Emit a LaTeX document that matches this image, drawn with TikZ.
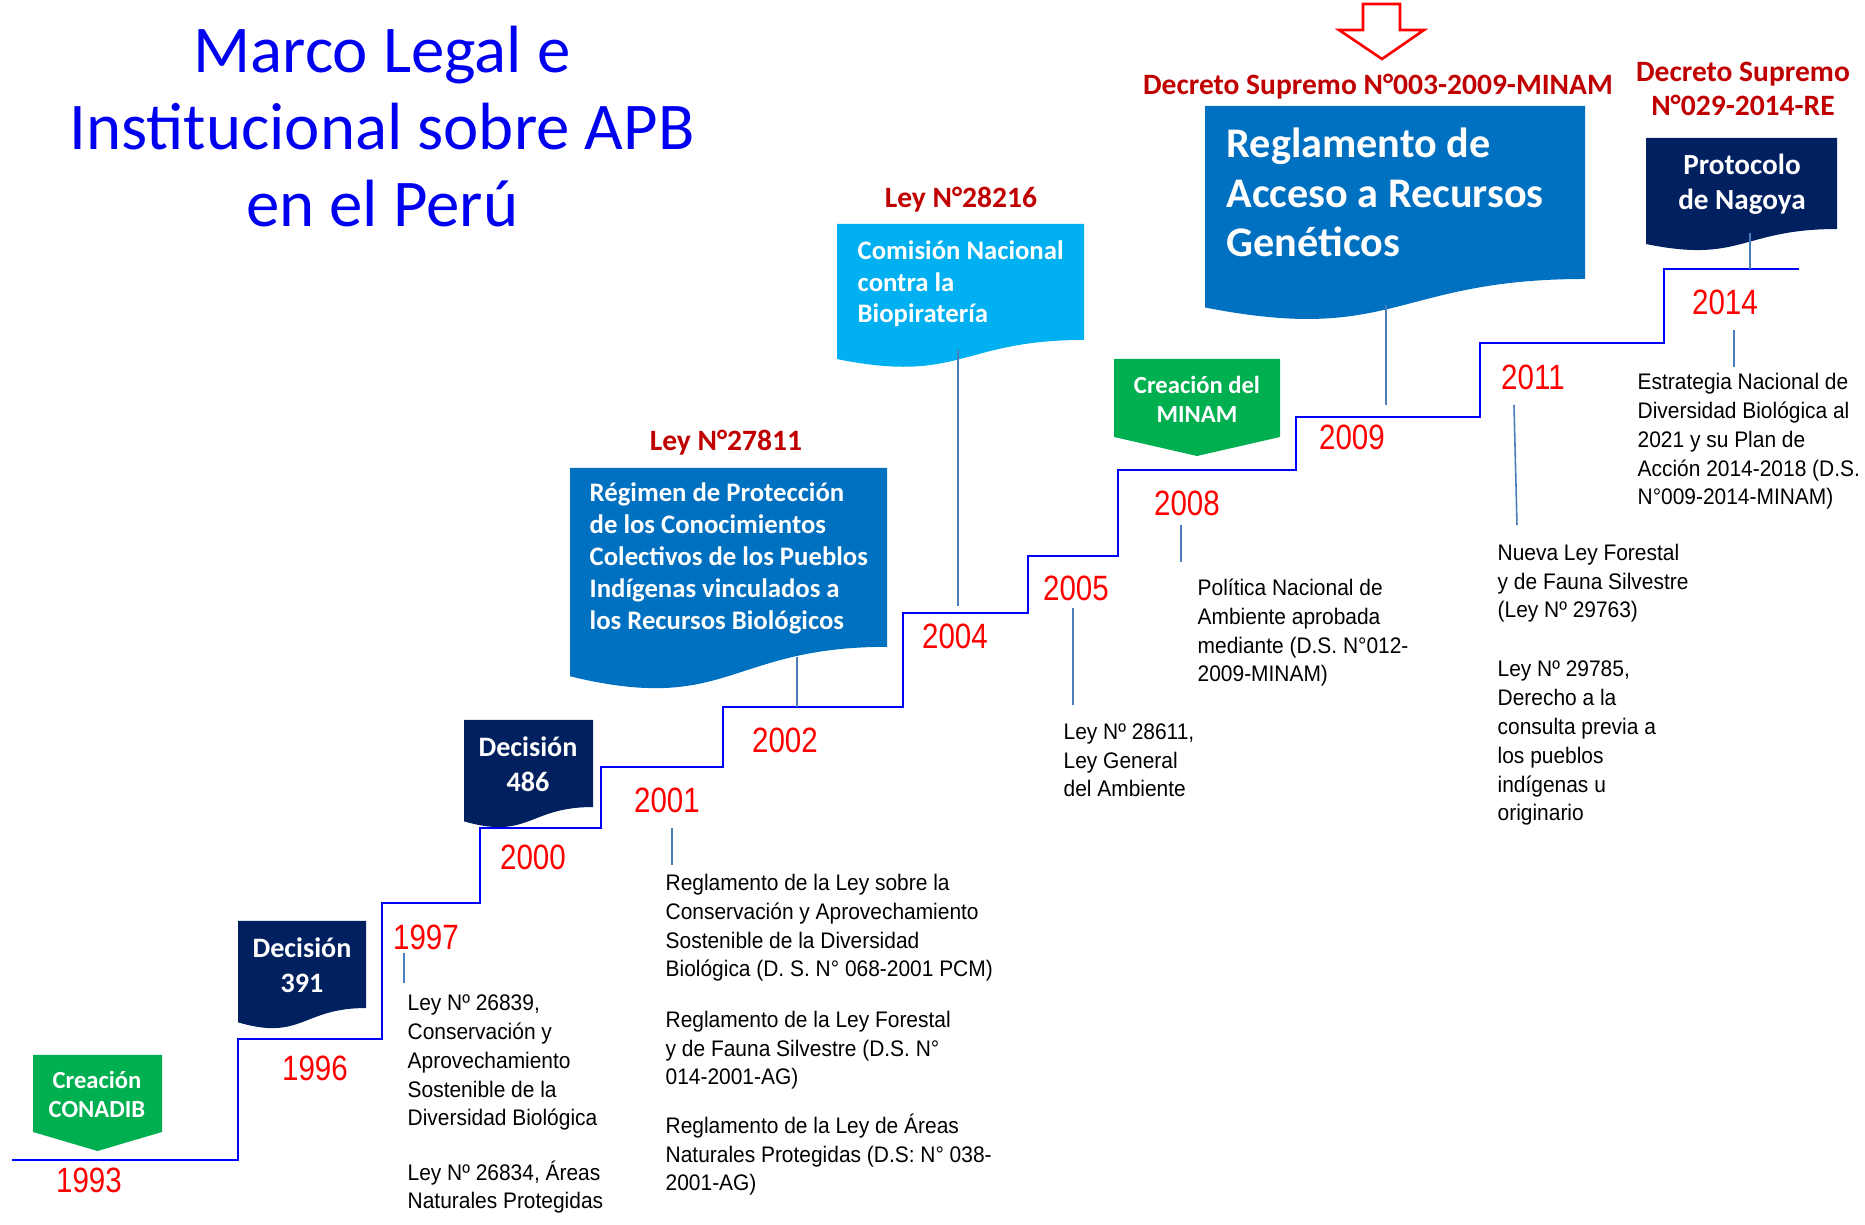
\documentclass[tikz,border=0pt]{standalone}
\usepackage{fontspec}
\setmainfont{Liberation Sans}
\newfontfamily\boxfont{Carlito}
\newfontfamily\yearfont[FakeStretch=0.84]{Liberation Sans}
\newfontfamily\notefont[FakeStretch=0.93]{Liberation Sans}
\usepackage{tikz}
\usetikzlibrary{positioning}
\definecolor{officeblue}{HTML}{0070C0}
\definecolor{skyblue}{HTML}{00B0F0}
\definecolor{navyblue}{HTML}{002060}
\definecolor{officegreen}{HTML}{00B050}
\definecolor{darkred}{HTML}{C00000}
\definecolor{tickblue}{HTML}{4A7EBB}
\definecolor{titleblue}{HTML}{0000F0}
\tikzset{>=latex}
\tikzset{
  timeline/.style={draw=blue, line width=0.7pt},
  tick/.style={draw=tickblue, line width=0.45pt},
  year/.style={text=red, inner sep=0pt, font=\yearfont\fontsize{10}{12}\selectfont},
  heading/.style={text=darkred, inner sep=0pt, align=center, font=\boxfont\bfseries\fontsize{8.4}{9.7}\selectfont},
  boxtext/.style={text=white, inner sep=0pt, font=\boxfont\bfseries},
  note/.style={inner sep=0pt, align=left, anchor=base west, font=\notefont\fontsize{6.4}{8.2}\selectfont},
}

% document shape with wavy bottom: colour, left, top, right, height
\newcommand{\docbox}[5]{%
  \fill[#1] (#2,#3) -- (#4,#3) -- (#4,{#3+0.802*#5})
    .. controls ({(#2+#4)/2},{#3+0.802*#5}) and ({(#2+#4)/2},{#3+1.1075*#5})
    .. (#2,{#3+0.934*#5}) -- cycle;}
% pentagon tag: colour, left, top, right, side bottom, tip
\newcommand{\tagbox}[6]{%
  \fill[#1] (#2,#3) -- (#4,#3) -- (#4,#5) -- ({(#2+#4)/2},#6) -- (#2,#5) -- cycle;}

\begin{document}
\begin{tikzpicture}[x=0.01cm, y=-0.01cm]
\useasboundingbox (0,0) rectangle (1865,1225);

% Title (base = last line)
\node[text=titleblue, align=center, anchor=base, inner sep=0pt,
      font=\boxfont\fontsize{19}{21.9}\selectfont] (title) at (382,227)
  {Marco Legal e\\Institucional sobre APB\\en el Perú};

% Timeline steps
\coordinate (s0) at (12,1160);
\coordinate (s1) at (238,1039);
\coordinate (s2) at (382,903);
\coordinate (s3) at (480,828);
\coordinate (s4) at (601,767);
\coordinate (s5) at (723,707);
\coordinate (s6) at (903,613);
\coordinate (s7) at (1028,556);
\coordinate (s8) at (1118,470);
\coordinate (s9) at (1296,417);
\coordinate (s10) at (1480,343);
\coordinate (s11) at (1664,269);
\coordinate (s12) at (1799,269);
\draw[timeline] (s0) -| (s1) -| (s2) -| (s3) -| (s4) -| (s5) -| (s6)
  -| (s7) -| (s8) -| (s9) -| (s10) -| (s11) -- (s12);

% Years
\node[year] (y1993) at (89,1180) {1993};
\node[year] (y1996) at (315,1068) {1996};
\node[year] (y1997) at (426,937) {1997};
\node[year] (y2000) at (533,857) {2000};
\node[year] (y2001) at (667,800) {2001};
\node[year] (y2002) at (785,740) {2002};
\node[year] (y2004) at (955,636) {2004};
\node[year] (y2005) at (1076,588) {2005};
\node[year] (y2008) at (1187,503) {2008};
\node[year] (y2009) at (1352,437) {2009};
\node[year] (y2011) at (1533,377) {2011};
\node[year] (y2014) at (1725,302) {2014};

% Boxes
\tagbox{officegreen}{33}{1055}{162}{1132}{1151}
\node[boxtext, align=center, font=\boxfont\bfseries\fontsize{7}{8.25}\selectfont] (conadib) at (97,1094) {Creación\\CONADIB};

\docbox{navyblue}{238}{921}{366}{108.5}
\node[boxtext, align=center, font=\boxfont\bfseries\fontsize{8}{10}\selectfont] (d391) at (302,965) {Decisión\\391};

\docbox{navyblue}{464}{720}{593}{108.5}
\node[boxtext, align=center, font=\boxfont\bfseries\fontsize{8}{10}\selectfont] (d486) at (528,764) {Decisión\\486};

\docbox{officeblue}{570}{468}{887}{223}
\node[heading] (ley27811) at (726,443) {Ley N°27811};
\node[boxtext, align=left, anchor=base west, font=\boxfont\bfseries\fontsize{7.6}{9.1}\selectfont] (regimen) at (589,630)
  {Régimen de Protección\\de los Conocimientos\\Colectivos de los Pueblos\\Indígenas vinculados a\\los Recursos Biológicos};

\docbox{skyblue}{837}{224}{1084}{144.6}
\node[heading] (ley28216) at (961,200) {Ley N°28216};
\node[boxtext, align=left, anchor=base west, font=\boxfont\bfseries\fontsize{7.6}{9}\selectfont] (comision) at (857,323)
  {Comisión Nacional\\contra la\\Biopiratería};

\tagbox{officegreen}{1114}{359}{1280}{437}{456}
\node[boxtext, align=center, font=\boxfont\bfseries\fontsize{7}{8.25}\selectfont] (minam) at (1197,399) {Creación del\\MINAM};

\docbox{officeblue}{1205}{106}{1585}{215.7}
\node[heading] (ds2009) at (1378,87) {Decreto Supremo N°003-2009-MINAM};
\node[boxtext, align=left, anchor=base west, font=\boxfont\bfseries\fontsize{12}{14.2}\selectfont] (reglamento) at (1226,257)
  {Reglamento de\\Acceso a Recursos\\Genéticos};

\docbox{navyblue}{1646}{138}{1837}{113.5}
\node[heading] (ds2014) at (1743,89) {Decreto Supremo\\N°029-2014-RE};
\node[boxtext, align=center, font=\boxfont\bfseries\fontsize{8.3}{10}\selectfont] (protocolo) at (1742,184) {Protocolo\\de Nagoya};

% Arrow to the decree
\draw[red, line width=0.75pt, line join=miter] (1363,4) -- (1400,4) -- (1400,30) -- (1424,30)
  -- (1382,59) -- (1339,30) -- (1363,30) -- cycle;

% Notes (base = last line)
\node[note] (ley26839) at (407,1126) {Ley Nº 26839,\\Conservación y\\Aprovechamiento\\Sostenible de la\\Diversidad Biológica};
\node[note] (ley26834) at (407,1209) {Ley Nº 26834, Áreas\\Naturales Protegidas};
\node[note] (regl1) at (665,977) {Reglamento de la Ley sobre la\\Conservación y Aprovechamiento\\Sostenible de la Diversidad\\Biológica (D. S. N° 068-2001 PCM)};
\node[note] (regl2) at (665,1085) {Reglamento de la Ley Forestal\\y de Fauna Silvestre (D.S. N°\\014-2001-AG)};
\node[note] (regl3) at (665,1191) {Reglamento de la Ley de Áreas\\Naturales Protegidas (D.S: N° 038-\\2001-AG)};
\node[note] (ley28611) at (1063,797) {Ley Nº 28611,\\Ley General\\del Ambiente};
\node[note] (politica) at (1197,682) {Política Nacional de\\Ambiente aprobada\\mediante (D.S. N°012-\\2009-MINAM)};
\node[note] (ley29763) at (1497,618) {Nueva Ley Forestal\\y de Fauna Silvestre\\(Ley Nº 29763)};
\node[note] (ley29785) at (1497,821) {Ley Nº 29785,\\Derecho a la\\consulta previa a\\los pueblos\\indígenas u\\originario};
\node[note] (estrategia) at (1637,505) {Estrategia Nacional de\\Diversidad Biológica al\\2021 y su Plan de\\Acción 2014-2018 (D.S.\\N°009-2014-MINAM)};

% Ticks
\coordinate (k1a) at (404,953);   \coordinate (k1b) at (404,983);
\coordinate (k2a) at (672,828);   \coordinate (k2b) at (672,865);
\coordinate (k3a) at (797,657);   \coordinate (k3b) at (797,707);
\coordinate (k4a) at (958,350);   \coordinate (k4b) at (958,606);
\coordinate (k5a) at (1073,608);  \coordinate (k5b) at (1073,705);
\coordinate (k6a) at (1181,525);  \coordinate (k6b) at (1181,562);
\coordinate (k7a) at (1386,305);  \coordinate (k7b) at (1386,405);
\coordinate (k8a) at (1514,405);  \coordinate (k8b) at (1517,525);
\coordinate (k9a) at (1750,233);  \coordinate (k9b) at (1750,269);
\coordinate (k10a) at (1734,330); \coordinate (k10b) at (1734,367);
\foreach \k in {1,...,10}
  \draw[tick] (k\k a) -- (k\k b);
\end{tikzpicture}
\end{document}
